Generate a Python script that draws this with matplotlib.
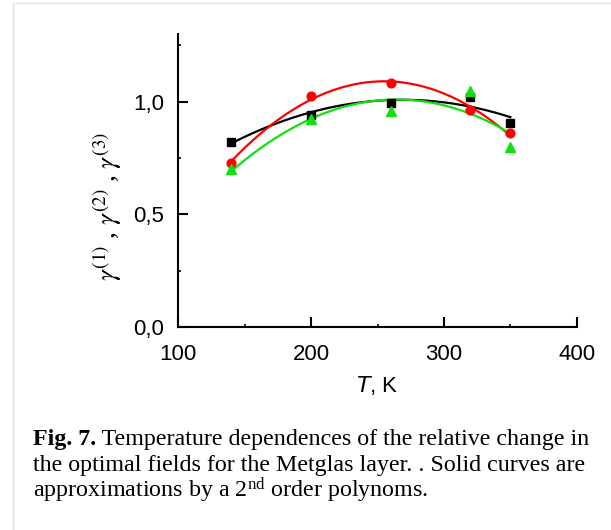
import matplotlib
matplotlib.use("Agg")
import matplotlib.pyplot as plt
import numpy as np
from matplotlib.lines import Line2D
from matplotlib.ticker import FixedLocator

plt.rcParams['font.family'] = ['Liberation Sans', 'DejaVu Sans']
plt.rcParams['mathtext.fontset'] = 'custom'
plt.rcParams['mathtext.rm'] = 'Liberation Serif'
plt.rcParams['mathtext.it'] = 'Liberation Serif:italic'

# data
T = [140, 200, 260, 320, 350]
gamma1 = [0.823, 0.941, 0.996, 1.022, 0.904]   # black squares
gamma2 = [0.730, 1.025, 1.084, 0.963, 0.860]   # red circles
gamma3 = [0.700, 0.922, 0.960, 1.049, 0.800]   # green triangles

xticks = [100, 200, 300, 400]
yticks = [0.0, 0.5, 1.0]
ytick_labels = ["0,0", "0,5", "1,0"]

series = [
    (gamma1, 'black', 's', 5.8),
    (gamma2, '#ff0000', 'o', 6.3),
    (gamma3, '#10e010', '^', 6.8),
]

fig = plt.figure(figsize=(6.11, 5.30), dpi=100)
ax = fig.add_axes([0.2918, 0.3825, 0.6521, 0.5533])

tt = np.linspace(min(T), max(T), 200)
for vals, col, mk, ms in series:
    # solid curves: 2nd order polynomial fits of the points
    coef = np.polyfit(T, vals, 2)
    ax.plot(tt, np.polyval(coef, tt), color=col, lw=1.6, zorder=2)
    ax.plot(T, vals, ls='none', marker=mk, ms=ms, color=col, zorder=3)

ax.set_xlim(100, 400)
ax.set_ylim(0, 1.3)
ax.set_xticks(xticks)
ax.set_yticks(yticks, ytick_labels)
ax.xaxis.set_minor_locator(FixedLocator([150, 250, 350]))
ax.yaxis.set_minor_locator(FixedLocator([0.25, 0.75, 1.25]))

for side in ['top', 'right']:
    ax.spines[side].set_visible(False)
for side in ['left', 'bottom']:
    ax.spines[side].set_linewidth(1.5)

ax.tick_params(which='major', direction='in', length=7, width=1.5,
               labelsize=16, pad=10)
ax.tick_params(which='minor', direction='in', length=2, width=1.2)
ax.tick_params(axis='x', which='major', pad=12)

ax.set_xlabel(r'$\it{T}$, K', fontsize=16)
ax.xaxis.label.set_math_fontfamily('dejavusans')
ax.xaxis.set_label_coords(0.5, -0.2)
ax.xaxis.label.set_va('center')

fig.text(107 / 611, 1 - 207 / 530,
         r'$\gamma^{(1)}$ , $\gamma^{(2)}$ , $\gamma^{(3)}$',
         rotation=90, ha='center', va='center', fontsize=19.5,
         family='Liberation Serif', math_fontfamily='stix')

# caption
cap_x = 33 / 611
cap_fs = 17.3
t1 = fig.text(cap_x, 1 - 445 / 530, 'Fig. 7.', family='Liberation Serif',
              weight='bold', fontsize=cap_fs, va='baseline')
ax.annotate(' Temperature dependences of the relative change in',
            xy=(1, 0), xycoords=t1, va='bottom', ha='left',
            family='Liberation Serif', fontsize=cap_fs, annotation_clip=False)
fig.text(cap_x, 1 - 471 / 530,
         'the optimal fields for the Metglas layer. . Solid curves are',
         family='Liberation Serif', fontsize=cap_fs, va='baseline')
fig.text(cap_x, 1 - 497 / 530,
         r'approximations by a 2$^{\rm nd}$ order polynoms.',
         family='Liberation Serif', fontsize=cap_fs, va='baseline')

# light page frame
frame_col = '#d8e6f3'
fig.add_artist(Line2D([12.5 / 611, 12.5 / 611], [0, 1 - 3.3 / 530],
                      color=frame_col, lw=1.0, transform=fig.transFigure))
fig.add_artist(Line2D([12.5 / 611, 1], [1 - 3.3 / 530, 1 - 3.3 / 530],
                      color=frame_col, lw=1.0, transform=fig.transFigure))

fig.savefig('out.png', dpi=100)
